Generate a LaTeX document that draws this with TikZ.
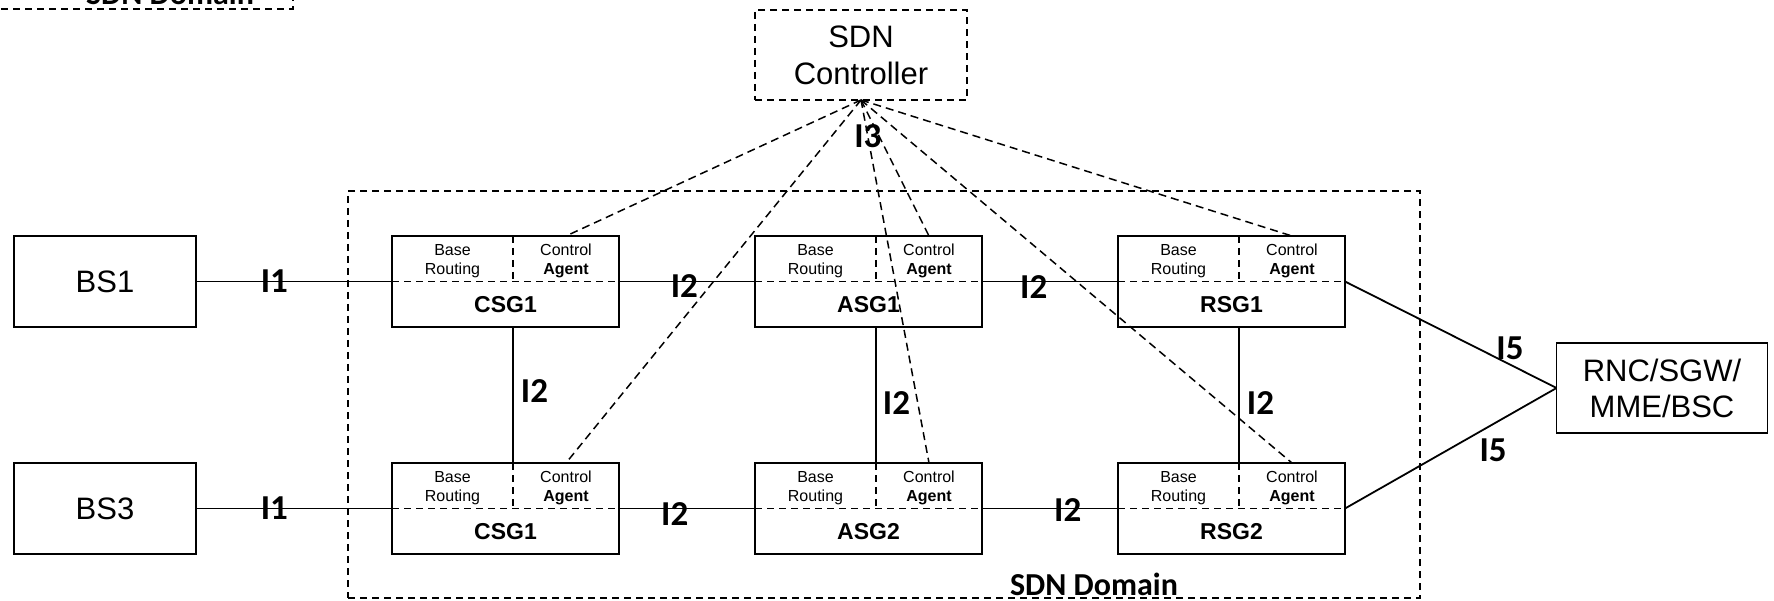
\documentclass[tikz,border=0pt]{standalone}
\usepackage{fontspec}
\setmainfont{Liberation Sans}
\newfontfamily\lblfont{Carlito}
\usetikzlibrary{positioning, calc}
\tikzstyle{station} = [rectangle, minimum width=182pt, minimum height=91pt, text centered, draw=black, line width=1.8pt, outer sep=0pt, align=center, font=\fontsize{31}{36}\selectfont]
\tikzstyle{gateway} = [rectangle, minimum width=227pt, minimum height=91pt, draw=black, line width=1.8pt, outer sep=0pt]
\tikzstyle{ctrlbox} = [rectangle, minimum width=212pt, minimum height=90pt, text centered, draw=black, line width=1.6pt, dash pattern=on 7pt off 5pt, outer sep=0pt, align=center, font=\fontsize{31}{37}\selectfont]
\tikzstyle{domainbox} = [rectangle, minimum width=1072pt, minimum height=407pt, draw=black, line width=1.6pt, dash pattern=on 7pt off 5pt, outer sep=0pt]
\tikzstyle{part} = [inner sep=0pt, align=center, font=\fontsize{16}{19.5}\selectfont]
\tikzstyle{gwname} = [inner sep=0pt, font=\bfseries\fontsize{23}{26}\selectfont]
\tikzstyle{dlbl} = [inner sep=0pt, font=\lblfont\bfseries\fontsize{32}{36}\selectfont]
\tikzstyle{lbl} = [inner sep=1pt, font=\lblfont\bfseries\fontsize{35}{40}\selectfont]
\tikzstyle{link} = [line width=1.8pt]
\tikzstyle{split} = [line width=1.5pt, dash pattern=on 7pt off 5pt]
\tikzstyle{ctrllink} = [line width=1.5pt, dash pattern=on 8pt off 5pt]

\begin{document}
\begin{tikzpicture}[x=1pt, y=-1pt]
    \useasboundingbox (0,0) rectangle (1774,601);
    \node (olddomain) [domainbox, anchor=south east] at (293,9) {};
    \node (oldlbl) [dlbl, anchor=base] at (170,5) {SDN Domain};

    \node (domain) [domainbox] at (884,394.5) {};
    \node (domainlbl) [dlbl, anchor=base] at ([xshift=210pt, yshift=3pt]domain.south) {SDN Domain};

    \node (ctrl) [ctrlbox] at (861,55) {SDN\\Controller};
    \node (csgA) [gateway] at (505.5,281.5) {};
    \node (asgA) [gateway, right=136pt of csgA] {};
    \node (rsgA) [gateway, right=136pt of asgA] {};
    \node (csgB) [gateway, below=136pt of csgA] {};
    \node (asgB) [gateway, right=136pt of csgB] {};
    \node (rsgB) [gateway, right=136pt of asgB] {};
    \node (bsA) [station, left=196pt of csgA] {BS1};
    \node (bsB) [station, left=196pt of csgB] {BS3};
    \node (rnc) [station, minimum width=211pt, minimum height=90pt] at (1662,388) {RNC/SGW/\\MME/BSC};

    \foreach \g/\t in {csgA/CSG1, asgA/ASG1, rsgA/RSG1, csgB/CSG1, asgB/ASG2, rsgB/RSG2} {
        \coordinate (\g-d) at ([xshift=121pt]\g.north west);
        \coordinate (\g-ag) at ([xshift=174pt]\g.north west);
        \draw [split] (\g.west) -- (\g.east);
        \draw [split] (\g-d) -- (\g-d |- \g.west);
        \node (\g-base) [part] at ([xshift=60.5pt, yshift=-25pt]\g.north west) {Base\\Routing};
        \node (\g-agent) [part] at ([yshift=-25pt]\g-ag) {Control\\\textbf{Agent}};
        \node (\g-name) [gwname] at ([yshift=-23pt]\g.center) {\t};
    }

    \draw [link] (bsA) -- node[lbl, pos=0.4] (i1a) {I1} (csgA);
    \draw [link] (csgA) -- node[lbl, pos=0.48, yshift=-5pt] (i2a) {I2} (asgA);
    \draw [link] (asgA) -- node[lbl, pos=0.38, yshift=-6pt] (i2b) {I2} (rsgA);
    \draw [link] (bsB) -- node[lbl, pos=0.4] (i1b) {I1} (csgB);
    \draw [link] (csgB) -- node[lbl, pos=0.41, yshift=-6pt] (i2c) {I2} (asgB);
    \draw [link] (asgB) -- node[lbl, pos=0.63, yshift=-2pt] (i2d) {I2} (rsgB);
    \draw [link] (csgA.south -| csgA-d) -- node[lbl, pos=0.47, anchor=west, xshift=6pt] (i2e) {I2} (csgB-d);
    \draw [link] (asgA.south -| asgA-d) -- node[lbl, pos=0.56, anchor=west, xshift=5pt] (i2f) {I2} (asgB-d);
    \draw [link] (rsgA.south -| rsgA-d) -- node[lbl, pos=0.56, anchor=west, xshift=6pt] (i2g) {I2} (rsgB-d);
    \draw [link] (rsgA.east) -- node[lbl, pos=0.78, yshift=16pt] (i5a) {I5} (rnc.west);
    \draw [link] (rsgB.east) -- node[lbl, pos=0.70, yshift=-26pt] (i5b) {I5} (rnc.west);

    \draw [ctrllink] (ctrl.south) -- (csgA-ag);
    \draw [ctrllink] (ctrl.south) -- (asgA-ag);
    \draw [ctrllink] (ctrl.south) -- (rsgA-ag);
    \draw [ctrllink] (ctrl.south) -- (csgB-ag);
    \draw [ctrllink] (ctrl.south) -- node[lbl, pos=0.1] (i3) {I3} (asgB-ag);
    \draw [ctrllink] (ctrl.south) -- (rsgB-ag);
\end{tikzpicture}
\end{document}
